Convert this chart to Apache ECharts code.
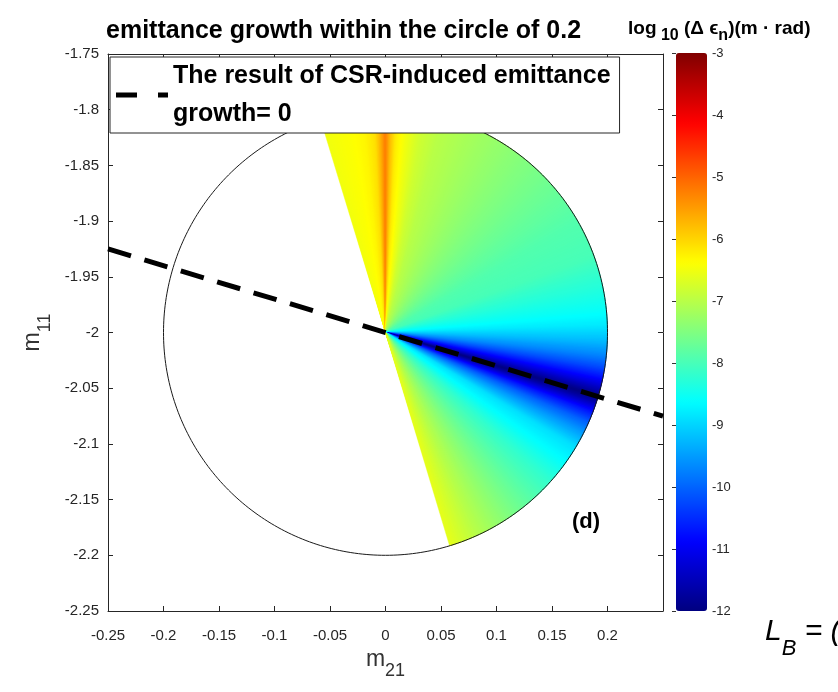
<!DOCTYPE html>
<html><head><meta charset="utf-8">
<script src="https://cdn.jsdelivr.net/npm/echarts@6/dist/echarts.min.js"></script>
<style>html,body{margin:0;padding:0;background:#fff}#c{width:838px;height:692px}</style>
</head><body><div id="c"></div>
<script>
// ---- data ----
const titleText = 'emittance growth within the circle of 0.2';
const xRange = [-0.25, 0.25];
const yRange = [-2.25, -1.75];
const tickStep = 0.05;
const colorbarRange = [-12, -3];
const colorbarStep = 1;
const circleCenter = [0, -2];
const circleRadius = 0.2;
// angle (deg, counter-clockwise from +m21 axis) of sampled rays inside the coloured half-disc
const sectorAngles = [107, 104, 100, 96, 93, 91.5, 90, 88.5, 87, 84, 80, 75, 70, 60, 50, 40, 30, 20, 12, 6, 2, -2, -6, -9, -12, -14, -15.5, -16.7, -18, -19.5, -21, -24, -27, -31, -36, -42, -50, -58, -66, -73];
// log10(delta eps_n) along each ray
const sectorValues = [-6.5, -6.45, -6.4, -6.3, -6.1, -5.7, -5.2, -5.8, -6.2, -6.5, -6.8, -7.0, -7.1, -7.3, -7.5, -7.7, -7.9, -8.0, -8.3, -8.55, -8.8, -9.2, -9.7, -10.2, -10.8, -11.3, -11.7, -12, -11.7, -11.2, -10.7, -10.0, -9.5, -8.9, -8.6, -8.2, -7.8, -7.4, -7.0, -6.6];
// dashed line: CSR-induced emittance growth = 0
const zeroLineX = [-0.25, 0.25];
const zeroLineY = [-1.925, -2.075];
const legendLabel = 'The result of CSR-induced emittance\ngrowth= 0';
const jetColors = ['#000080', '#0000ff', '#0080ff', '#00ffff', '#80ff80', '#ffff00', '#ff8000', '#ff0000', '#800000'];

const FONT = "'Liberation Sans', Arial, sans-serif";

function hexToRgb(h) { return [parseInt(h.slice(1,3),16), parseInt(h.slice(3,5),16), parseInt(h.slice(5,7),16)]; }
const jetRgb = jetColors.map(hexToRgb);
function jet(v) {
  let t = (v - colorbarRange[0]) / (colorbarRange[1] - colorbarRange[0]);
  t = Math.max(0, Math.min(1, t));
  const f = t * (jetRgb.length - 1);
  const i = Math.min(jetRgb.length - 2, Math.floor(f));
  const r = f - i;
  const c = jetRgb[i].map((a, k) => Math.round(a + (jetRgb[i+1][k] - a) * r));
  return 'rgb(' + c.join(',') + ')';
}

const sectorData = [];
for (let i = 0; i < sectorAngles.length - 1; i++) {
  sectorData.push([sectorAngles[i], sectorAngles[i+1], sectorValues[i], sectorValues[i+1]]);
}

const chart = echarts.init(document.getElementById('c'), null, {renderer: 'canvas'});

const axisCommon = {
  type: 'value', interval: tickStep, splitLine: {show: false},
  axisLine: {show: true, onZero: false, lineStyle: {color: '#262626', width: 1}},
  axisTick: {show: true, inside: true, length: 5, lineStyle: {color: '#262626'}},
};

const option = {
  animation: false,
  backgroundColor: '#fff',
  title: {
    text: titleText, left: 106, top: 19, padding: 0,
    textStyle: {fontFamily: FONT, fontSize: 25, fontWeight: 'bold', color: '#000'}
  },
  grid: [
    {left: 108, right: 175, top: 54, bottom: 81, containLabel: false},
    {left: 676, top: 53, width: 31, height: 558}
  ],
  xAxis: [
    Object.assign({}, axisCommon, {
      gridIndex: 0, position: 'bottom', min: xRange[0], max: xRange[1],
      axisLabel: {show: true, margin: 17, fontFamily: FONT, fontSize: 15, color: '#262626', showMaxLabel: false},
      name: 'm{s|21}', nameLocation: 'middle', nameGap: 19,
      nameTextStyle: {fontFamily: FONT, color: '#333', fontSize: 23,
        rich: {s: {fontSize: 18, fontFamily: FONT, color: '#333', verticalAlign: 'bottom', lineHeight: 42}}}
    }),
    Object.assign({}, axisCommon, {
      gridIndex: 0, position: 'top', min: xRange[0], max: xRange[1], axisLabel: {show: false}
    }),
    {gridIndex: 1, type: 'value', show: false, min: 0, max: 1}
  ],
  yAxis: [
    Object.assign({}, axisCommon, {
      gridIndex: 0, position: 'left', min: yRange[0], max: yRange[1],
      axisLabel: {show: true, margin: 9, fontFamily: FONT, fontSize: 15, color: '#262626'},
      name: 'm{s|11}', nameLocation: 'middle', nameGap: 51,
      nameTextStyle: {fontFamily: FONT, color: '#333', fontSize: 23,
        rich: {s: {fontSize: 18, fontFamily: FONT, color: '#333', verticalAlign: 'bottom', lineHeight: 42}}}
    }),
    Object.assign({}, axisCommon, {
      gridIndex: 0, position: 'right', min: yRange[0], max: yRange[1], axisLabel: {show: false}
    }),
    {
      gridIndex: 1, type: 'value', position: 'right', min: colorbarRange[0], max: colorbarRange[1], interval: colorbarStep,
      splitLine: {show: false}, axisLine: {show: false},
      axisTick: {show: true, inside: true, length: 4, lineStyle: {color: '#333'}},
      axisLabel: {show: true, margin: 5, fontFamily: FONT, fontSize: 13, color: '#262626'}
    }
  ],
  visualMap: {
    type: 'continuous', min: colorbarRange[0], max: colorbarRange[1],
    seriesIndex: 0, dimension: 2, calculable: false, hoverLink: false,
    left: 676, top: 53, itemWidth: 31, itemHeight: 558, padding: 0,
    inRange: {color: jetColors}, text: null
  },
  legend: {
    data: [legendLabel], left: 110, top: 57, orient: 'vertical',
    backgroundColor: '#fff', borderColor: '#262626', borderWidth: 1,
    padding: [0, 9, 0, 6], itemWidth: 52, itemHeight: 5,
    icon: 'path://M0,0H21V5H0Z M42,0H52V5H42Z',
    itemStyle: {color: '#000'},
    textStyle: {fontFamily: FONT, fontSize: 25, fontWeight: 'bold', color: '#000', lineHeight: 38},
    selectedMode: false, z: 10
  },
  series: [
    {
      type: 'custom', name: 'growth', xAxisIndex: 0, yAxisIndex: 0, z: 2,
      data: sectorData, silent: true,
      renderItem: function (params, api) {
        const a0 = api.value(0), a1 = api.value(1), v0 = api.value(2), v1 = api.value(3);
        const c = api.coord(circleCenter);
        const pt = (deg) => {
          const a = deg * Math.PI / 180;
          return api.coord([circleCenter[0] + circleRadius * Math.cos(a), circleCenter[1] + circleRadius * Math.sin(a)]);
        };
        // shade the wedge between two sampled rays in thin slices (interpolated shading)
        const steps = Math.max(1, Math.ceil(Math.abs(a1 - a0) / 0.4));
        const dir = a1 > a0 ? 1 : -1;
        const children = [];
        for (let s = 0; s < steps; s++) {
          const f0 = s / steps, f1 = (s + 1) / steps;
          const s0 = a0 + (a1 - a0) * f0;
          let s1 = a0 + (a1 - a0) * f1;
          const last = params.dataIndex === sectorData.length - 1 && s === steps - 1;
          if (!last) s1 += dir * 0.6;
          const v = v0 + (v1 - v0) * (f0 + f1) / 2;
          const col = jet(v);
          children.push({type: 'polygon', shape: {points: [c, pt(s0), pt((s0 + s1) / 2), pt(s1)]},
            style: {fill: col, stroke: last ? null : col, lineWidth: 0.5}});
        }
        return {type: 'group', children: children};
      }
    },
    {
      type: 'custom', name: 'circle', xAxisIndex: 0, yAxisIndex: 0, z: 3, silent: true,
      data: [[circleCenter[0], circleCenter[1], circleRadius]],
      renderItem: function (params, api) {
        const cx = api.value(0), cy = api.value(1), r = api.value(2);
        const pts = [];
        for (let k = 0; k <= 360; k++) {
          const a = k * Math.PI / 180;
          pts.push(api.coord([cx + r * Math.cos(a), cy + r * Math.sin(a)]));
        }
        return {type: 'polyline', shape: {points: pts}, style: {fill: null, stroke: '#1a1a1a', lineWidth: 1}};
      }
    },
    {
      type: 'line', name: legendLabel, xAxisIndex: 0, yAxisIndex: 0, z: 4,
      data: zeroLineX.map((x, i) => [x, zeroLineY[i]]),
      symbol: 'none', silent: true, color: '#000',
      itemStyle: {color: '#000'},
      lineStyle: {color: '#000', width: 5, type: [24, 14]}
    }
  ],
  graphic: [
    {type: 'text', left: 572, top: 511, z: 20, style: {text: '(d)', font: 'bold 22px ' + FONT, fill: '#000'}},
    {type: 'text', left: 628, top: 19, z: 20, style: {
      text: '{b|log}{s| 10}{b| (Δ }{b|ϵ}{s|n}{b|)(m · rad)}',
      rich: {
        b: {font: 'bold 19px ' + FONT, fill: '#000', lineHeight: 30, verticalAlign: 'middle'},
        s: {font: 'bold 16px ' + FONT, fill: '#000', lineHeight: 10, verticalAlign: 'bottom'}
      }}},
    {type: 'text', left: 765, top: 617, z: 20, style: {
      text: '{l|L}{s|B}{l| = (}',
      rich: {
        l: {font: 'italic 30px ' + FONT, fill: '#000', lineHeight: 56, verticalAlign: 'middle'},
        s: {font: 'italic 22px ' + FONT, fill: '#000', lineHeight: 22, verticalAlign: 'bottom'}
      }}}
  ]
};
chart.setOption(option);
</script>
</body></html>
